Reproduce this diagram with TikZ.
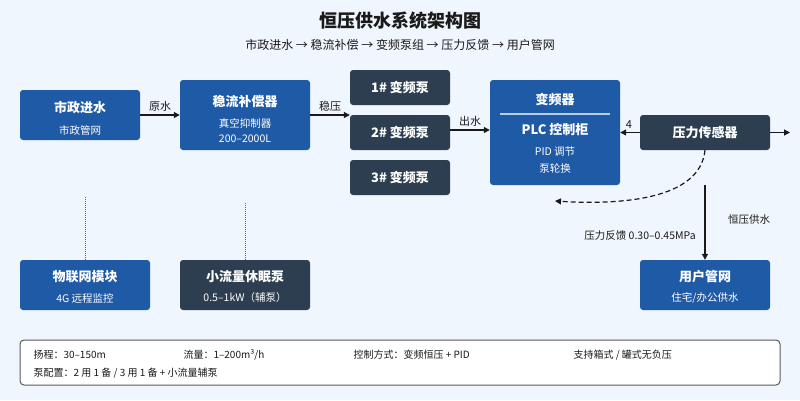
\documentclass[tikz,border=0pt]{standalone}
\usepackage{fontspec}
\setmainfont{Noto Sans CJK SC}
\usetikzlibrary{arrows.meta}
\definecolor{bg}{HTML}{F0F6FD}
\definecolor{bl}{HTML}{1F5AA6}
\definecolor{dk}{HTML}{2D3E50}
\definecolor{ln}{HTML}{1A1A1A}
\tikzset{x=1pt,y=-1pt,
 box/.style={draw=none,rounded corners=3pt,text=white,align=center,inner sep=0pt},
 B/.style={box,fill=bl},D/.style={box,fill=dk},
 arr/.style={-{Triangle[length=6pt,width=6pt]},line width=1.2pt,draw=ln},
 lab/.style={font=\fontsize{11}{13}\selectfont,text=ln},
 t1/.style={font=\bfseries\fontsize{13}{15}\selectfont},
 t2/.style={font=\fontsize{10.5}{13}\selectfont}}
\begin{document}
\begin{tikzpicture}
\fill[bg] (0,0) rectangle (800,400);
\useasboundingbox (0,0) rectangle (800,400);
\node[font=\bfseries\fontsize{18}{20}\selectfont,text=ln] (title) at (400,21) {恒压供水系统架构图};
\node[font=\fontsize{12}{14}\selectfont,text=ln] (sub) at (400,45) {市政进水 → 稳流补偿 → 变频泵组 → 压力反馈 → 用户管网};
\node[B,minimum width=120,minimum height=50] (a) at (80,115) {};
\node[t1,text=white] at (80,108) {市政进水};\node[t2,text=white] at (80,130) {市政管网};
\node[B,minimum width=130,minimum height=70] (b) at (245,115) {};
\node[t1,text=white] at (245,102) {稳流补偿器};\node[t2,text=white] at (245,123) {真空抑制器};\node[t2,text=white] at (245,139) {200–2000L};
\node[D,minimum width=100,minimum height=35,t1] (p1) at (400,87.5) {1\# 变频泵};
\node[D,minimum width=100,minimum height=35,t1] (p2) at (400,132.5) {2\# 变频泵};
\node[D,minimum width=100,minimum height=35,t1] (p3) at (400,177.5) {3\# 变频泵};
\node[B,minimum width=130,minimum height=105] (plc) at (555,132.5) {};
\node[t1,text=white] at (555,100) {变频器};
\draw[white!70!bl,line width=1.2pt] (500,114) -- (610,114);
\node[t1,text=white] at (555,130) {PLC 控制柜};
\node[t2,text=white] at (555,151) {PID 调节};\node[t2,text=white] at (555,168) {泵轮换};
\node[D,minimum width=130,minimum height=35,t1] (s) at (705,132.5) {压力传感器};
\node[B,minimum width=130,minimum height=50] (iot) at (85,285) {};
\node[t1,text=white] at (85,277) {物联网模块};\node[t2,text=white] at (85,298) {4G 远程监控};
\node[D,minimum width=130,minimum height=50] (sp) at (245,285) {};
\node[t1,text=white] at (245,277) {小流量休眠泵};\node[t2,text=white] at (245,298) {0.5–1kW（辅泵）};
\node[B,minimum width=130,minimum height=50] (u) at (705,285) {};
\node[t1,text=white] at (705,277) {用户管网};\node[t2,text=white] at (705,298) {住宅/办公供水};
\draw[arr] (a.east|-0,115) -- (b.west|-0,115) node[midway,above,lab] {原水};
\draw[arr] (b.east|-0,115) -- (p2.west|-0,115) node[midway,above,lab] {稳压};
\draw[arr] (p2.east|-0,130) -- (plc.west|-0,130) node[midway,above,lab] {出水};
\draw[arr] (s.west) -- (plc.east|-s.west) node[pos=0.55,above,lab] {4};
\coordinate (r) at (790,132.5);
\draw[arr] (s.east) -- (r);
\coordinate (fb) at (555,201);
\draw[arr,dashed,dash pattern=on 5pt off 3pt] (s.south) .. controls (700,200) and (620,205) .. (fb);
\coordinate (v) at (705,185);
\draw[arr] (v) -- (u.north);
\node[lab,font=\fontsize{10.5}{13}\selectfont] at (749,220) {恒压供水};
\node[lab,font=\fontsize{10.5}{13}\selectfont] at (640,236) {压力反馈 0.30–0.45MPa};
\draw[gray!80!black,densely dotted,line width=1pt] (85,197) -- (iot.north);
\draw[gray!80!black,densely dotted,line width=1pt] (245,203) -- (sp.north);
\node[draw=gray!70!black,fill=white,rounded corners=4pt,line width=1pt,minimum width=760,minimum height=45] (info) at (400,362.5) {};
\begin{scope}[every node/.style={anchor=west,font=\fontsize{10}{12}\selectfont,text=ln}]
\node at (30,355) {扬程：30–150m};
\node at (180,355) {流量：1–200m³/h};
\node at (350,355) {控制方式：变频恒压 + PID};
\node at (570,355) {支持箱式 / 罐式无负压};
\node at (30,373) {泵配置：2 用 1 备 / 3 用 1 备 + 小流量辅泵};
\end{scope}
\end{tikzpicture}
\end{document}
